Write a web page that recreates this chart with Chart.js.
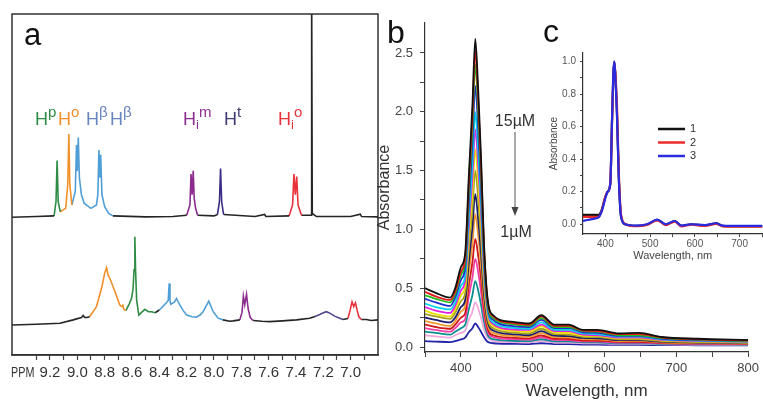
<!DOCTYPE html>
<html>
<head>
<meta charset="utf-8">
<script src="https://cdn.jsdelivr.net/npm/chart.js@4.4.1/dist/chart.umd.min.js"></script>
<style>
  body { margin: 0; background: #fff; width: 763px; height: 403px; overflow: hidden; position: relative; }
  canvas { position: absolute; }
</style>
</head>
<body>
<canvas id="nmr" width="390" height="403" style="left:0;top:0"></canvas>
<canvas id="uv" width="393" height="403" style="left:370px;top:0"></canvas>
<canvas id="inset" width="223" height="225" style="left:540px;top:40px"></canvas>
<script>
// ---- panel a : 1H NMR (ppm, intensity) ----
const upperBlack1 = [[9.478, 40.4], [9.3, 40.6], [9.17, 40.8]];
const upperGreen = [[9.17, 40.8], [9.156, 45], [9.148, 57.0], [9.14, 45], [9.125, 42]];
const upperOrange = [[9.125, 42], [9.085, 43], [9.07, 50], [9.062, 64.8], [9.055, 50], [9.04, 44]];
const upperBlue = [[9.04, 44], [9.015, 48], [9.006, 61.6], [9.0, 54], [8.993, 63.8], [8.985, 52], [8.97, 47],
  [8.95, 44.5], [8.9, 43], [8.86, 44], [8.85, 47], [8.842, 60.1], [8.836, 52], [8.829, 58.7], [8.82, 47],
  [8.80, 43.5], [8.77, 41.5], [8.74, 40.8]];
const upperBlack2 = [[8.74, 40.8], [8.5, 40.5], [8.3, 40.6], [8.2, 41]];
const upperPurple = [[8.2, 41], [8.176, 44], [8.168, 53.1], [8.16, 47], [8.152, 54.0], [8.145, 46], [8.135, 43.1], [8.12, 41]];
const upperBlack3 = [[8.12, 41], [8.0, 40.8], [7.975, 41.2]];
const upperIndigo = [[7.975, 41.2], [7.96, 45], [7.952, 54.7], [7.944, 45], [7.93, 41.2]];
const upperBlack4 = [[7.93, 41.2], [7.7, 40.6], [7.63, 41.2], [7.62, 40.6], [7.45, 40.8]];
const upperRed = [[7.45, 40.8], [7.425, 44], [7.415, 53.1], [7.405, 47], [7.395, 52.3], [7.385, 44], [7.36, 41]];
const upperBlack5 = [[7.36, 41], [7.29, 41], [7.288, 110], [7.283, 110], [7.281, 41.5], [7.25, 40.6],
  [7.0, 40.6], [6.93, 41.3], [6.92, 40.6], [6.8, 40.5]];

const lowerBlack1 = [[9.478, 8.8], [9.3, 9.0], [9.127, 9.3], [9.03, 10.3], [8.97, 11.0], [8.957, 11.6], [8.945, 11.0], [8.93, 11.0], [8.91, 11.2]];
const lowerOrange = [[8.91, 11.2], [8.86, 14.2], [8.82, 20.0], [8.80, 24.0], [8.786, 25.6], [8.775, 23.5], [8.76, 22.3],
  [8.725, 18.6], [8.69, 14.7], [8.675, 14.2], [8.667, 14.6], [8.66, 13.4], [8.645, 13.0]];
const lowerGreen = [[8.645, 13.0], [8.62, 15.0], [8.603, 16.6], [8.592, 19.5], [8.585, 25], [8.579, 34.7], [8.574, 25],
  [8.566, 16.1], [8.55, 11.7], [8.53, 12.5], [8.506, 13.4], [8.48, 12.7], [8.457, 12.7], [8.43, 12.4]];
const lowerBlack2 = [[8.43, 12.4], [8.40, 13.2]];
const lowerBlue = [[8.40, 13.2], [8.37, 14.4], [8.347, 15.4], [8.335, 16], [8.328, 21.0], [8.322, 16], [8.316, 14.9],
  [8.29, 15.5], [8.274, 16.6], [8.262, 15.6], [8.25, 14.7], [8.225, 13.0], [8.2, 11.7], [8.16, 11.2], [8.128, 11.1],
  [8.1, 11.8], [8.08, 12.7], [8.06, 14.2], [8.038, 15.8], [8.025, 14.5], [8.006, 12.7], [7.97, 10.8], [7.935, 10.3]];
const lowerBlack3 = [[7.935, 10.3], [7.884, 9.9], [7.86, 10.0], [7.811, 10.3]];
const lowerPurple = [[7.811, 10.3], [7.795, 12.5], [7.785, 17.3], [7.775, 14.8], [7.762, 17.8], [7.75, 13.5], [7.735, 11.0], [7.714, 10.1]];
const lowerBlack4 = [[7.714, 10.1], [7.65, 9.9], [7.592, 9.8], [7.5, 10.0], [7.397, 10.3], [7.3, 10.8], [7.26, 11.3]];
const lowerIndigo = [[7.26, 11.3], [7.226, 11.9], [7.2, 12.4], [7.177, 12.7], [7.15, 12.2], [7.117, 11.4], [7.08, 10.8], [7.056, 10.4]];
const lowerBlack5 = [[7.056, 10.4], [7.02, 10.7]];
const lowerRed = [[7.02, 10.7], [7.005, 13], [6.99, 15.6], [6.978, 14.2], [6.965, 15.3], [6.952, 13], [6.94, 11.2], [6.922, 10.4]];
const lowerBlack6 = [[6.922, 10.4], [6.885, 10.4], [6.85, 10.1], [6.8, 10.3]];

const ppmTicks = [9.3, 9.2, 9.1, 9.0, 8.9, 8.8, 8.7, 8.6, 8.5, 8.4, 8.3, 8.2, 8.1, 8.0, 7.9, 7.8, 7.7, 7.6, 7.5, 7.4, 7.3, 7.2, 7.1, 7.0, 6.9];
const ppmTickLabels = ['', '9.2', '', '9.0', '', '8.8', '', '8.6', '', '8.4', '', '8.2', '', '8.0', '', '7.8', '', '7.6', '', '7.4', '', '7.2', '', '7.0', ''];

// ---- panel b : UV-vis dilution series 15 uM -> 1 uM ----
const wavelengths = [350, 365, 385, 392, 400, 406, 411, 416, 420, 424, 428, 432, 437, 445, 470, 495, 512, 530, 550, 570, 590, 620, 648, 680, 730, 800];
const abs15 = [0.50, 0.46, 0.42, 0.50, 0.68, 0.80, 1.45, 2.05, 2.62, 2.20, 1.62, 0.90, 0.42, 0.27, 0.215, 0.20, 0.27, 0.19, 0.19, 0.145, 0.145, 0.115, 0.12, 0.085, 0.07, 0.06];
const abs14 = [0.47, 0.43, 0.40, 0.47, 0.64, 0.76, 1.38, 1.96, 2.52, 2.11, 1.55, 0.86, 0.40, 0.26, 0.205, 0.19, 0.26, 0.18, 0.18, 0.14, 0.135, 0.11, 0.11, 0.08, 0.065, 0.055];
const abs13 = [0.44, 0.41, 0.38, 0.45, 0.61, 0.73, 1.32, 1.87, 2.40, 2.01, 1.48, 0.83, 0.38, 0.245, 0.195, 0.18, 0.245, 0.17, 0.17, 0.135, 0.13, 0.10, 0.10, 0.075, 0.062, 0.052];
const abs12 = [0.41, 0.38, 0.35, 0.42, 0.57, 0.68, 1.22, 1.73, 2.22, 1.86, 1.36, 0.77, 0.36, 0.23, 0.18, 0.17, 0.23, 0.16, 0.16, 0.125, 0.12, 0.095, 0.095, 0.07, 0.058, 0.05];
const abs11 = [0.37, 0.34, 0.32, 0.38, 0.52, 0.61, 1.10, 1.56, 2.00, 1.68, 1.23, 0.70, 0.33, 0.21, 0.165, 0.155, 0.21, 0.145, 0.145, 0.115, 0.11, 0.088, 0.088, 0.065, 0.054, 0.046];
const abs10 = [0.34, 0.31, 0.29, 0.35, 0.48, 0.57, 1.02, 1.44, 1.85, 1.55, 1.14, 0.65, 0.31, 0.195, 0.15, 0.145, 0.19, 0.135, 0.135, 0.105, 0.10, 0.08, 0.08, 0.06, 0.05, 0.043];
const abs9 = [0.31, 0.28, 0.26, 0.32, 0.44, 0.52, 0.93, 1.31, 1.68, 1.41, 1.04, 0.59, 0.28, 0.18, 0.14, 0.13, 0.175, 0.125, 0.12, 0.097, 0.094, 0.073, 0.073, 0.056, 0.047, 0.04];
const abs8 = [0.28, 0.26, 0.24, 0.29, 0.39, 0.46, 0.83, 1.17, 1.50, 1.26, 0.92, 0.53, 0.25, 0.16, 0.125, 0.115, 0.155, 0.11, 0.106, 0.087, 0.084, 0.065, 0.066, 0.05, 0.042, 0.036];
const abs7 = [0.25, 0.23, 0.21, 0.25, 0.34, 0.40, 0.72, 1.02, 1.30, 1.09, 0.80, 0.46, 0.22, 0.14, 0.11, 0.10, 0.135, 0.096, 0.093, 0.077, 0.074, 0.058, 0.058, 0.045, 0.038, 0.033];
const abs6 = [0.22, 0.20, 0.18, 0.22, 0.30, 0.35, 0.63, 0.88, 1.13, 0.95, 0.70, 0.40, 0.19, 0.12, 0.096, 0.088, 0.118, 0.084, 0.082, 0.067, 0.065, 0.051, 0.052, 0.04, 0.034, 0.03];
const abs5 = [0.19, 0.17, 0.155, 0.19, 0.25, 0.29, 0.52, 0.72, 0.92, 0.78, 0.58, 0.34, 0.16, 0.10, 0.08, 0.074, 0.098, 0.07, 0.068, 0.056, 0.055, 0.044, 0.044, 0.035, 0.03, 0.027];
const abs4 = [0.16, 0.145, 0.13, 0.16, 0.21, 0.24, 0.43, 0.59, 0.75, 0.64, 0.47, 0.28, 0.135, 0.085, 0.067, 0.062, 0.082, 0.06, 0.058, 0.048, 0.047, 0.038, 0.038, 0.031, 0.027, 0.024];
const abs3 = [0.13, 0.12, 0.105, 0.13, 0.16, 0.19, 0.32, 0.44, 0.56, 0.48, 0.36, 0.22, 0.105, 0.066, 0.053, 0.05, 0.066, 0.048, 0.047, 0.04, 0.039, 0.032, 0.032, 0.027, 0.023, 0.021];
const abs2 = [0.10, 0.09, 0.08, 0.10, 0.12, 0.14, 0.23, 0.30, 0.38, 0.33, 0.25, 0.155, 0.08, 0.052, 0.042, 0.04, 0.052, 0.038, 0.037, 0.032, 0.031, 0.026, 0.026, 0.022, 0.019, 0.018];
const abs1 = [0.05, 0.046, 0.042, 0.05, 0.065, 0.08, 0.125, 0.16, 0.20, 0.17, 0.13, 0.085, 0.045, 0.032, 0.027, 0.025, 0.032, 0.025, 0.024, 0.021, 0.02, 0.018, 0.018, 0.016, 0.015, 0.014];

const uvXTicks = [350, 400, 450, 500, 550, 600, 650, 700, 750, 800];
const uvXLabels = ['', '400', '', '500', '', '600', '', '700', '', '800'];
const uvYTicks = [0, 0.25, 0.5, 0.75, 1, 1.25, 1.5, 1.75, 2, 2.25, 2.5];
const uvYLabels = ['0.0', '', '0.5', '', '1.0', '', '1.5', '', '2.0', '', '2.5'];

// ---- panel c : normalised spectra 1,2,3 ----
const insetWavelengths = [350, 370, 385, 392, 400, 405, 411, 415, 418, 420, 422, 426, 430, 435, 444, 470, 493, 516, 535, 555, 570, 592, 622, 648, 662, 700, 751];
const insetSpec1 = [0.057, 0.057, 0.058, 0.09, 0.17, 0.20, 0.25, 0.65, 0.93, 1.0, 0.93, 0.68, 0.29, 0.05, 0.0, -0.01, -0.002, 0.027, -0.002, 0.02, -0.01, 0.0, -0.007, 0.005, -0.01, -0.012, -0.012];
const insetSpec2 = [0.045, 0.045, 0.046, 0.085, 0.17, 0.20, 0.25, 0.64, 0.92, 0.99, 0.94, 0.72, 0.32, 0.06, 0.003, -0.012, -0.004, 0.024, -0.005, 0.016, -0.013, -0.003, -0.01, 0.002, -0.013, -0.015, -0.015];
const insetSpec3 = [0.02, 0.032, 0.042, 0.08, 0.16, 0.20, 0.25, 0.66, 0.94, 1.0, 0.92, 0.66, 0.28, 0.045, 0.0, -0.008, 0.0, 0.028, 0.0, 0.02, -0.008, 0.0, -0.005, 0.006, -0.008, -0.01, -0.01];
const insetNames = ['1', '2', '3'];
const insetXTicks = [400, 450, 500, 550, 600, 650, 700, 750];
const insetXLabels = ['400', '', '500', '', '600', '', '700', ''];
const insetYTicks = [0, 0.1, 0.2, 0.3, 0.4, 0.5, 0.6, 0.7, 0.8, 0.9, 1.0];
const insetYLabels = ['0.0', '', '0.2', '', '0.4', '', '0.6', '', '0.8', '', '1.0'];

const SANS = '"Liberation Sans", Arial, sans-serif';
const C = {
  black: '#252525', green: '#2f8c44', orange: '#f2902a', blue: '#4f9fd6',
  purple: '#8c2c8e', indigo: '#3b2d86', red: '#e8323b'
};

function seg(points, color) {
  return {
    data: points.map(p => ({ x: p[0], y: p[1] })),
    borderColor: color, borderWidth: 1.6, pointRadius: 0, tension: 0, fill: false
  };
}

function fixedTicks(values) {
  return axis => { axis.ticks = values.map(v => ({ value: v })); };
}

// draws H with sub/superscripts; k: 0 normal, 1 sup, -1 sub
function drawParts(ctx, x, y, parts, color) {
  ctx.fillStyle = color;
  ctx.textBaseline = 'alphabetic';
  ctx.textAlign = 'left';
  for (const [t, k] of parts) {
    const size = k === 0 ? 18 : (k === 1 ? 15 : 13);
    ctx.font = size + 'px ' + SANS;
    ctx.fillText(t, x, y + (k === 1 ? -8 : k === -1 ? 4 : 0));
    x += ctx.measureText(t).width;
  }
}

const nmrDecor = {
  id: 'nmrDecor',
  afterDraw(chart) {
    const { ctx, chartArea: a } = chart;
    ctx.save();
    ctx.strokeStyle = '#333';
    ctx.lineWidth = 1.5;
    ctx.strokeRect(a.left, a.top, a.right - a.left, a.bottom - a.top);
    ctx.fillStyle = '#111';
    ctx.font = '31px ' + SANS;
    ctx.fillText('a', 24, 45);
    // condensed "PPM" like the tick labels of the original
    ctx.save();
    ctx.fillStyle = '#333';
    ctx.font = '15px ' + SANS;
    ctx.textBaseline = 'middle';
    ctx.translate(11, 373);
    ctx.scale(0.72, 1);
    ctx.fillText('PPM', 0, 0);
    ctx.restore();
    const hb = '#6a86c0';
    drawParts(ctx, 35, 125, [['H', 0], ['p', 1]], C.green);
    drawParts(ctx, 58, 125, [['H', 0], ['o', 1]], C.orange);
    drawParts(ctx, 86, 125, [['H', 0], ['β', 1]], hb);
    drawParts(ctx, 110, 125, [['H', 0], ['β', 1]], hb);
    drawParts(ctx, 183, 125, [['H', 0], ['i', -1], ['m', 1]], C.purple);
    drawParts(ctx, 224, 125, [['H', 0], ['t', 1]], '#3e3870');
    drawParts(ctx, 278, 125, [['H', 0], ['i', -1], ['o', 1]], C.red);
    ctx.restore();
  }
};

new Chart(document.getElementById('nmr'), {
  type: 'line',
  data: {
    datasets: [
      seg(upperBlack1, C.black), seg(upperGreen, C.green), seg(upperOrange, C.orange), seg(upperBlue, C.blue),
      seg(upperBlack2, C.black), seg(upperPurple, C.purple), seg(upperBlack3, C.black), seg(upperIndigo, C.indigo),
      seg(upperBlack4, C.black), seg(upperRed, C.red), seg(upperBlack5, C.black),
      seg(lowerBlack1, C.black), seg(lowerOrange, C.orange), seg(lowerGreen, C.green), seg(lowerBlack2, C.black),
      seg(lowerBlue, C.blue), seg(lowerBlack3, C.black), seg(lowerPurple, C.purple), seg(lowerBlack4, C.black),
      seg(lowerIndigo, '#54458f'), seg(lowerBlack5, C.black), seg(lowerRed, C.red), seg(lowerBlack6, C.black)
    ]
  },
  options: {
    responsive: false, animation: false, devicePixelRatio: 1,
    layout: { padding: { left: 12, right: 12, top: 14, bottom: 0 } },
    plugins: { legend: { display: false }, tooltip: { enabled: false } },
    scales: {
      x: {
        type: 'linear', reverse: true, min: 6.80, max: 9.478,
        afterFit: s => { s.height = 48; },
        afterBuildTicks: fixedTicks(ppmTicks),
        ticks: {
          autoSkip: false, maxRotation: 0, padding: 4, color: '#333',
          font: { family: SANS, size: 15 },
          callback: (v, i) => ppmTickLabels[i]
        },
        grid: { drawOnChartArea: false, tickLength: 5, color: '#444', tickWidth: 1.2 },
        border: { display: true, color: '#333', width: 1.5 }
      },
      y: { display: false, min: 0, max: 100 }
    }
  },
  plugins: [nmrDecor]
});

// ---- panel b ----
const uvSeries = [abs15, abs14, abs13, abs12, abs11, abs10, abs9, abs8, abs7, abs6, abs5, abs4, abs3, abs2, abs1];
const uvColors = ['#111111', '#e41a1c', '#1fbf1f', '#1f2fd0', '#00d4e6', '#e020e0', '#eee000', '#a3a020',
  '#1a1a6e', '#f09a30', '#cf1818', '#f040a8', '#0a8f8f', '#f0a8dc', '#2424a8'];

const uvDecor = {
  id: 'uvDecor',
  afterDraw(chart) {
    const ctx = chart.ctx;
    ctx.save();
    ctx.fillStyle = '#111';
    ctx.font = '32px ' + SANS;
    ctx.textBaseline = 'alphabetic';
    ctx.fillText('b', 17, 43);
    ctx.fillText('c', 173, 42);
    ctx.fillStyle = '#333';
    ctx.font = '16px ' + SANS;
    ctx.textAlign = 'center';
    ctx.fillText('15\u00b5M', 145, 126);
    ctx.fillText('1\u00b5M', 146, 237);
    ctx.strokeStyle = '#555';
    ctx.lineWidth = 1;
    ctx.beginPath();
    ctx.moveTo(145, 132);
    ctx.lineTo(145, 210);
    ctx.stroke();
    ctx.fillStyle = '#444';
    ctx.beginPath();
    ctx.moveTo(141.5, 207);
    ctx.lineTo(148.5, 207);
    ctx.lineTo(145, 216);
    ctx.closePath();
    ctx.fill();
    ctx.restore();
  }
};

new Chart(document.getElementById('uv'), {
  type: 'line',
  data: {
    datasets: uvSeries.map((s, i) => ({
      data: s.map((v, j) => ({ x: wavelengths[j], y: v })),
      borderColor: uvColors[i], borderWidth: 1.8, pointRadius: 0,
      cubicInterpolationMode: 'monotone', fill: false
    }))
  },
  options: {
    responsive: false, animation: false, devicePixelRatio: 1,
    layout: { padding: { left: 0, right: 11, top: 23, bottom: 0 } },
    plugins: { legend: { display: false }, tooltip: { enabled: false } },
    scales: {
      x: {
        type: 'linear', min: 350, max: 800,
        afterFit: s => { s.height = 51; },
        afterBuildTicks: fixedTicks(uvXTicks),
        ticks: { autoSkip: false, maxRotation: 0, padding: 4, color: '#444', font: { family: SANS, size: 13 },
          callback: (v, i) => uvXLabels[i] },
        grid: { drawOnChartArea: false, tickLength: 5, color: '#444' },
        border: { display: true, color: '#333', width: 1.2 },
        title: { display: true, text: 'Wavelength, nm', color: '#333', font: { family: SANS, size: 17 },
          padding: { top: 0, bottom: 1 } }
      },
      y: {
        type: 'linear', min: -0.0425, max: 2.755,
        afterFit: s => { s.width = 55; },
        afterBuildTicks: fixedTicks(uvYTicks),
        ticks: { autoSkip: false, padding: 7, color: '#444', font: { family: SANS, size: 13 },
          callback: (v, i) => uvYLabels[i] },
        grid: { drawOnChartArea: false, tickLength: 5, color: '#444' },
        border: { display: true, color: '#333', width: 1.2 },
        title: { display: true, text: 'Absorbance', color: '#333', font: { family: SANS, size: 16 },
          padding: { top: 5, bottom: 0 } }
      }
    }
  },
  plugins: [uvDecor]
});

// ---- panel c ----
const insetSeries = [insetSpec1, insetSpec2, insetSpec3];
const insetColors = ['#111111', '#ee2a2a', '#2a2ae0'];

const insetLegend = {
  id: 'insetLegend',
  afterDraw(chart) {
    const ctx = chart.ctx;
    ctx.save();
    ctx.font = '11px ' + SANS;
    ctx.textBaseline = 'middle';
    insetNames.forEach((name, i) => {
      const y = 89 + i * 13.5;
      ctx.strokeStyle = insetColors[i];
      ctx.lineWidth = 2.5;
      ctx.beginPath();
      ctx.moveTo(118, y);
      ctx.lineTo(145, y);
      ctx.stroke();
      ctx.fillStyle = '#333';
      ctx.fillText(name, 150, y);
    });
    ctx.restore();
  }
};

new Chart(document.getElementById('inset'), {
  type: 'line',
  data: {
    datasets: insetSeries.map((s, i) => ({
      data: s.map((v, j) => ({ x: insetWavelengths[j], y: v })),
      borderColor: insetColors[i], borderWidth: 2.2, pointRadius: 0,
      cubicInterpolationMode: 'monotone', fill: false
    })).reverse()
  },
  options: {
    responsive: false, animation: false, devicePixelRatio: 1,
    layout: { padding: { left: 0, right: 0, top: 13, bottom: 0 } },
    plugins: { legend: { display: false }, tooltip: { enabled: false } },
    scales: {
      x: {
        type: 'linear', min: 350, max: 751,
        afterFit: s => { s.height = 31; },
        afterBuildTicks: fixedTicks(insetXTicks),
        ticks: { autoSkip: false, maxRotation: 0, padding: 1, color: '#555', font: { family: SANS, size: 10 },
          callback: (v, i) => insetXLabels[i] },
        grid: { drawOnChartArea: false, tickLength: 3, color: '#444' },
        border: { display: true, color: '#333', width: 1.2 },
        title: { display: true, text: 'Wavelength, nm', color: '#444', font: { family: SANS, size: 11 },
          padding: { top: 0, bottom: 2 } }
      },
      y: {
        type: 'linear', min: -0.06, max: 1.053,
        afterFit: s => { s.width = 43; },
        afterBuildTicks: fixedTicks(insetYTicks),
        ticks: { autoSkip: false, padding: 4, color: '#555', font: { family: SANS, size: 10 },
          callback: (v, i) => insetYLabels[i] },
        grid: { drawOnChartArea: false, tickLength: 3, color: '#444' },
        border: { display: true, color: '#333', width: 1.2 },
        title: { display: true, text: 'Absorbance', color: '#444', font: { family: SANS, size: 10 },
          padding: { top: 8, bottom: 0 } }
      }
    }
  },
  plugins: [insetLegend]
});
</script>
</body>
</html>
